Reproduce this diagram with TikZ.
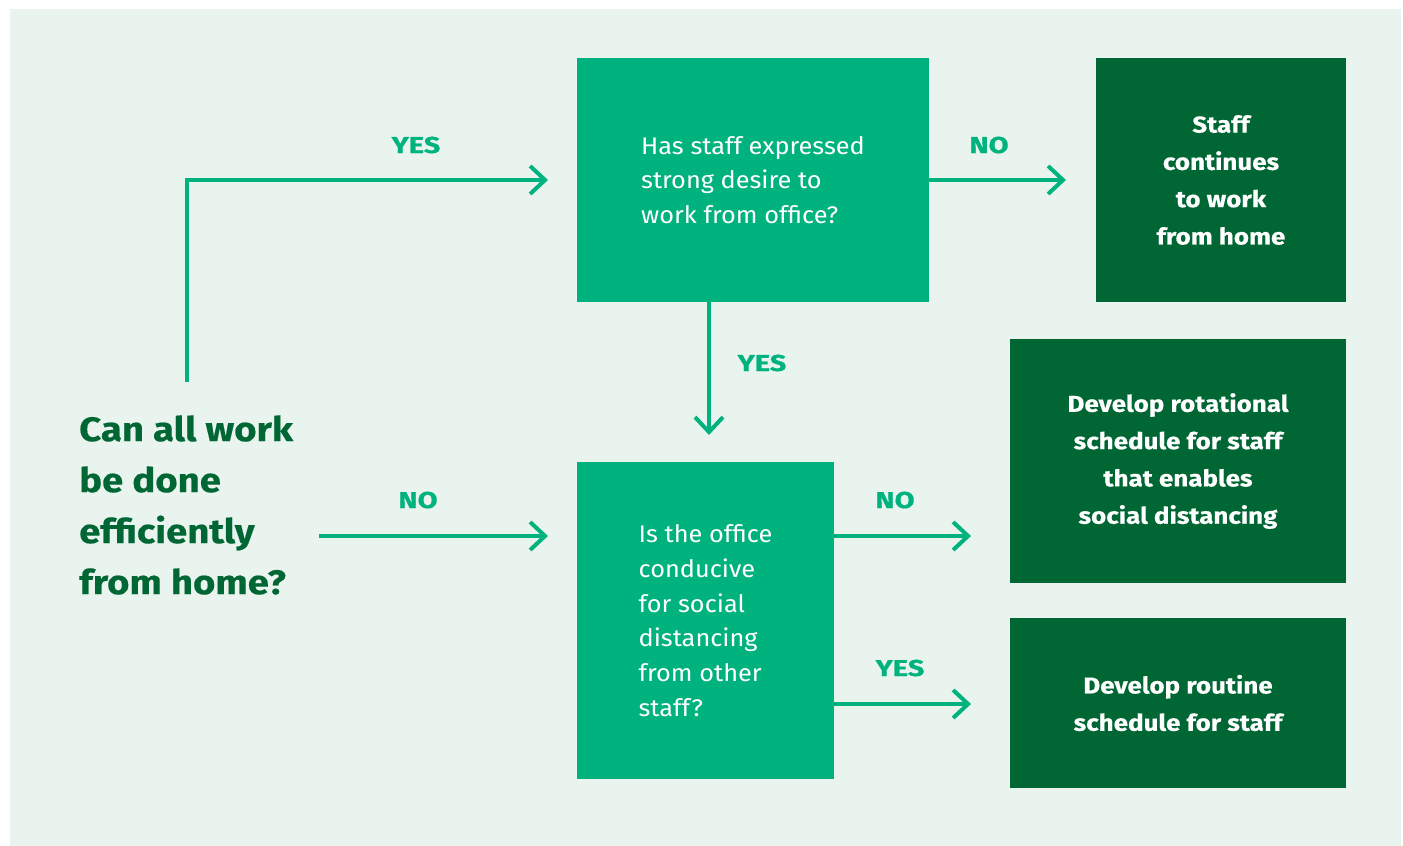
\documentclass[tikz,border=0pt]{standalone}
\usepackage{fontspec}
\setmainfont{Fira Sans}
\newfontfamily\regf{Fira Sans}[FakeStretch=1.055]
\newfontfamily\qf{Fira Sans}[FakeStretch=1.127, BoldFeatures={FakeBold=0.4}]
\newfontfamily\df{Fira Sans}[FakeStretch=1.13, BoldFeatures={FakeBold=0.4}]
\newfontfamily\lf{Fira Sans}[FakeStretch=1.26, BoldFeatures={FakeBold=0.6}]
\usetikzlibrary{arrows.meta}
\definecolor{bg}{HTML}{EAF4EF}
\definecolor{lg}{HTML}{00B27D}
\definecolor{dg}{HTML}{006633}
\tikzset{
  lbox/.style={fill=lg, text=white, inner sep=0pt, align=left, font=\regf\fontsize{24}{34.7}\selectfont},
  dbox/.style={fill=dg, text=white, inner sep=0pt, align=center, font=\df\fontsize{23}{37.3}\selectfont\bfseries},
  arr/.style={draw=lg, line width=4pt, -{Straight Barb[length=15pt,width=28pt,line width=4pt]}},
  lab/.style={text=lg, inner sep=0pt, anchor=base, font=\lf\fontsize{23}{25}\selectfont\bfseries},
}
\begin{document}
\begin{tikzpicture}[x=1pt,y=-1pt]
\useasboundingbox (0,0) rectangle (1403,846);
\fill[bg] (10,9) rectangle (1401,846);
% boxes
\node[lbox, minimum width=352pt, minimum height=244pt] (b1) at (753,180) {Has staff expressed\\strong desire to\\work from office?};
\node[lbox, minimum width=257pt, minimum height=317pt] (b2) at (705.5,620.5) {Is the office\\conducive\\for social\\distancing\\from other\\staff?};
\node[dbox, minimum width=250pt, minimum height=244pt] (d1) at (1221,180) {Staff\\continues\\to work\\from home};
\node[dbox, minimum width=336pt, minimum height=244pt] (d2) at (1178,461) {Develop rotational\\schedule for staff\\that enables\\social distancing};
\node[dbox, minimum width=336pt, minimum height=170pt] (d3) at (1178,703) {Develop routine\\schedule for staff};
% question
\node[anchor=west, inner sep=0pt, align=left, text=dg, font=\qf\fontsize{34}{51}\selectfont\bfseries] (q) at (79,505) {Can all work\\be done\\efficiently\\from home?};
% connectors
\coordinate (s1) at (187,382);
\coordinate (e1) at (548,180);
\coordinate (s2) at (319,536);
\coordinate (e2) at (548,536);
\coordinate (e3) at (1066,180);
\coordinate (e4) at (709,435);
\coordinate (e5) at (971,536);
\coordinate (e6) at (971,704);
\draw[arr] (s1) |- (e1);
\draw[arr] (s2) -- (e2);
\draw[arr] (b1.east) -- (e3);
\draw[arr] (e4 |- b1.south) -- (e4);
\draw[arr] (b2.east |- e5) -- (e5);
\draw[arr] (b2.east |- e6) -- (e6);
% labels
\node[lab] (l1) at (416,153) {YES};
\node[lab] (l2) at (418,508) {NO};
\node[lab] (l3) at (762,371) {YES};
\node[lab] (l4) at (989,153) {NO};
\node[lab] (l5) at (895,508) {NO};
\node[lab] (l6) at (900,676) {YES};
\end{tikzpicture}
\end{document}
